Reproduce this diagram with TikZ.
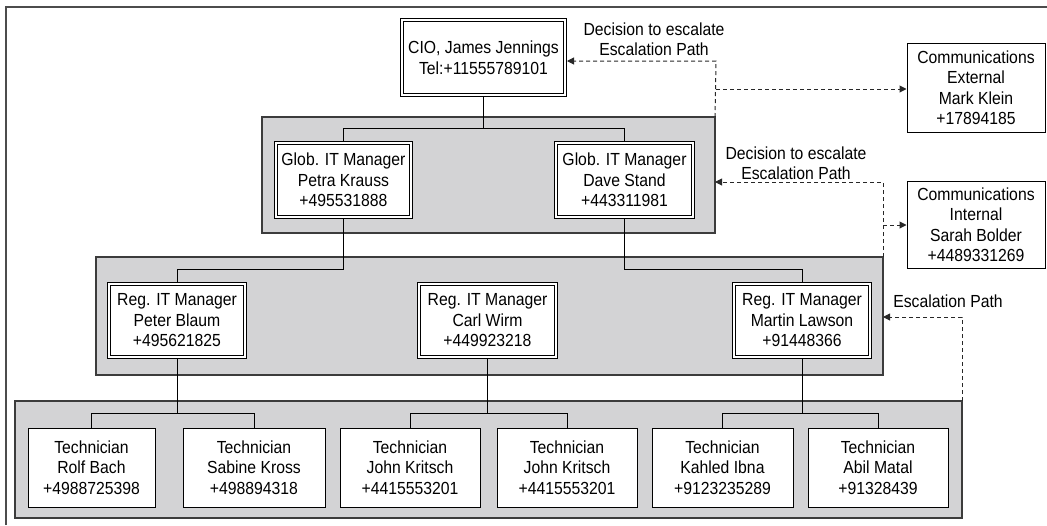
\documentclass[tikz,border=0pt]{standalone}
\usepackage{fontspec}
\setmainfont{Liberation Sans}[FakeStretch=0.9]
\usetikzlibrary{arrows.meta}
\definecolor{panelgray}{RGB}{211,211,213}
\definecolor{paneledge}{RGB}{60,60,60}
\definecolor{dashgray}{RGB}{40,40,40}
\begin{document}
\begin{tikzpicture}[x=1pt,y=-1pt,
  txt/.style={font=\fontsize{17.5}{20.5}\selectfont, align=center, inner sep=0pt},
  panel/.style={draw=paneledge, line width=1.3pt, fill=panelgray, rectangle, inner sep=0pt, outer sep=0pt},
  mgrbox/.style={txt, draw=black, fill=white, line width=1pt, double=white, double distance=2pt, rectangle, outer sep=2pt},
  plainbox/.style={txt, draw=black, fill=white, line width=1pt, rectangle, outer sep=0.5pt},
  link/.style={draw=black, line width=1pt},
  esc/.style={draw=dashgray, line width=1pt, dash pattern=on 4pt off 3pt, -{Triangle[length=7pt,width=7pt]}},
  note/.style={txt}
]
\useasboundingbox (0,0) rectangle (1047,525);

% page frame
\draw[draw=black!70, line width=1.5pt] (6,525) -- (6,7) -- (1047,7);

% grey level panels
\node[panel, minimum width=453pt, minimum height=116pt] (p2) at (488.5,175) {};
\node[panel, minimum width=787pt, minimum height=118pt] (p3) at (489.5,316) {};
\node[panel, minimum width=947pt, minimum height=117pt] (p4) at (488.5,459.5) {};

% CIO
\node[mgrbox, minimum width=163pt, minimum height=75pt] (cio) at (483.5,57.5)
  {CIO, James Jennings\\Tel:+11555789101};

% global managers
\node[mgrbox, minimum width=135pt, minimum height=74pt] (glob1) at (343.5,180)
  {Glob. IT Manager\\Petra Krauss\\+495531888};
\node[mgrbox, minimum width=137pt, minimum height=74pt] (glob2) at (624.5,180)
  {Glob. IT Manager\\Dave Stand\\+443311981};

% regional managers
\node[mgrbox, minimum width=136pt, minimum height=73pt] (reg1) at (177,320.5)
  {Reg. IT Manager\\Peter Blaum\\+495621825};
\node[mgrbox, minimum width=137pt, minimum height=73pt] (reg2) at (487.5,320.5)
  {Reg. IT Manager\\Carl Wirm\\+449923218};
\node[mgrbox, minimum width=136pt, minimum height=73pt] (reg3) at (802,320.5)
  {Reg. IT Manager\\Martin Lawson\\+91448366};

% technicians
\node[plainbox, minimum width=127pt, minimum height=79pt] (tech1) at (91.5,467.5)
  {Technician\\Rolf Bach\\+4988725398};
\node[plainbox, minimum width=142pt, minimum height=79pt] (tech2) at (254,467.5)
  {Technician\\Sabine Kross\\+498894318};
\node[plainbox, minimum width=140pt, minimum height=79pt] (tech3) at (410,467.5)
  {Technician\\John Kritsch\\+4415553201};
\node[plainbox, minimum width=140pt, minimum height=79pt] (tech4) at (567,467.5)
  {Technician\\John Kritsch\\+4415553201};
\node[plainbox, minimum width=141pt, minimum height=79pt] (tech5) at (722.5,467.5)
  {Technician\\Kahled Ibna\\+9123235289};
\node[plainbox, minimum width=140pt, minimum height=79pt] (tech6) at (878,467.5)
  {Technician\\Abil Matal\\+91328439};

% communications
\node[plainbox, minimum width=138pt, minimum height=89pt] (ext) at (976,87.5)
  {Communications\\External\\Mark Klein\\+17894185};
\node[plainbox, minimum width=138pt, minimum height=87pt] (int) at (976,224.5)
  {Communications\\Internal\\Sarah Bolder\\+4489331269};

% reporting lines
\coordinate (lv1) at (0,128);
\coordinate (lv2) at (0,269);
\coordinate (lv3) at (0,413);
\draw[link] (cio.south) -- (cio.south |- lv1);
\draw[link] (glob1.north) -- (glob1.north |- lv1) -- (glob2.north |- lv1) -- (glob2.north);
\draw[link] (glob1.south) -- (glob1.south |- lv2) -- (reg1.north |- lv2) -- (reg1.north);
\draw[link] (glob2.south) -- (glob2.south |- lv2) -- (reg3.north |- lv2) -- (reg3.north);
\draw[link] (reg1.south) -- (reg1.south |- lv3);
\draw[link] (reg2.south) -- (reg2.south |- lv3);
\draw[link] (reg3.south) -- (reg3.south |- lv3);
\draw[link] (tech1.north) -- (tech1.north |- lv3) -- (tech2.north |- lv3) -- (tech2.north);
\draw[link] (tech3.north) -- (tech3.north |- lv3) -- (tech4.north |- lv3) -- (tech4.north);
\draw[link] (tech5.north) -- (tech5.north |- lv3) -- (tech6.north |- lv3) -- (tech6.north);

% escalation paths
\coordinate (e1) at (716,61);
\coordinate (b1) at (716,89);
\draw[esc] (p2.north east) -- (e1) -- (cio.east |- e1);
\draw[esc] (b1) -- (ext.west |- b1);
\node[note] (lab1) at (654,39) {Decision to escalate\\Escalation Path};

\coordinate (e2) at (883,182);
\coordinate (b2) at (883,225);
\draw[esc] (p3.north east) -- (e2) -- (p2.east |- e2);
\draw[esc] (b2) -- (int.west |- b2);
\node[note] (lab2) at (796,163) {Decision to escalate\\Escalation Path};

\coordinate (e3) at (962,317);
\draw[esc] (p4.north east) -- (e3) -- (p3.east |- e3);
\node[note] (lab3) at (948,301) {Escalation Path};
\end{tikzpicture}
\end{document}
